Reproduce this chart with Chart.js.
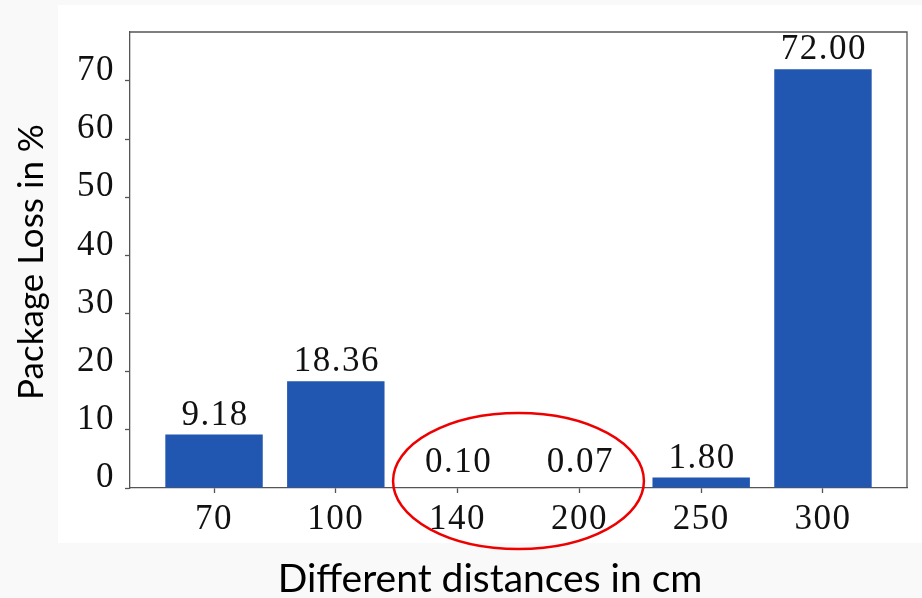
<!DOCTYPE html>
<html>
<head>
<meta charset="utf-8">
<script src="https://cdn.jsdelivr.net/npm/chart.js@4/dist/chart.umd.min.js"></script>
<style>
  html, body { margin: 0; padding: 0; background: #f9f9f9; }
  #wrap { width: 922px; height: 598px; position: relative; }
</style>
</head>
<body>
<div id="wrap"><canvas id="chart"></canvas></div>
<script>
// Packet loss measured at each transmitter–receiver distance
const categories = ['70', '100', '140', '200', '250', '300'];
const lossPercent = [9.18, 18.36, 0.10, 0.07, 1.80, 72.00];
const yTickValues = [0, 10, 20, 30, 40, 50, 60, 70];
const xTitle = 'Different distances in cm';
const yTitle = 'Package Loss in %';
const highlighted = [2, 3]; // indices circled in red

const AXIS = '#555555';
const BAR = '#2157b0';
const SERIF = '"Liberation Serif", "DejaVu Serif", serif';
const SANS = 'Lato, "Liberation Sans", sans-serif';
const SPACING = '1.5px';

const backdrop = {
  id: 'backdrop',
  beforeDraw(chart) {
    const ctx = chart.ctx;
    ctx.save();
    ctx.fillStyle = '#f9f9f9';
    ctx.fillRect(0, 0, chart.width, chart.height);
    ctx.fillStyle = '#ffffff';
    ctx.fillRect(58, 5, chart.width - 58, 538);
    ctx.restore();
    ctx.letterSpacing = SPACING;
  }
};

const frame = {
  id: 'frame',
  afterDatasetsDraw(chart) {
    const { ctx, chartArea: a } = chart;
    ctx.save();
    ctx.strokeStyle = AXIS;
    ctx.lineWidth = 1.3;
    ctx.beginPath();
    ctx.moveTo(a.left, a.top);
    ctx.lineTo(a.right, a.top);
    ctx.lineTo(a.right, a.bottom);
    ctx.stroke();
    ctx.restore();
  }
};

const valueLabels = {
  id: 'valueLabels',
  afterDatasetsDraw(chart) {
    const ctx = chart.ctx;
    const y = chart.scales.y;
    const meta = chart.getDatasetMeta(0);
    ctx.save();
    ctx.letterSpacing = SPACING;
    ctx.font = '35px ' + SERIF;
    ctx.fillStyle = '#111';
    ctx.textAlign = 'center';
    ctx.textBaseline = 'alphabetic';
    meta.data.forEach((bar, i) => {
      const base = y.getPixelForValue(0);
      const yy = Math.min(bar.y - 10, base - 16);
      ctx.fillText(lossPercent[i].toFixed(2), bar.x + 1, yy);
    });
    ctx.restore();
  }
};

const annotations = {
  id: 'annotations',
  afterDraw(chart) {
    const ctx = chart.ctx;
    const xs = chart.scales.x, ys = chart.scales.y;
    ctx.save();
    ctx.letterSpacing = '0px';
    // red ellipse around the near-zero bars
    const x0 = xs.getPixelForValue(highlighted[0]);
    const x1 = xs.getPixelForValue(highlighted[1]);
    const unit = xs.getPixelForValue(1) - xs.getPixelForValue(0);
    const cx = (x0 + x1) / 2;
    const cy = ys.getPixelForValue(0) - 7;
    ctx.strokeStyle = '#ee0000';
    ctx.lineWidth = 2.5;
    ctx.beginPath();
    ctx.ellipse(cx, cy, unit * 1.03, 68, 0, 0, Math.PI * 2);
    ctx.stroke();

    // axis titles
    ctx.fillStyle = '#000';
    ctx.textAlign = 'center';
    ctx.textBaseline = 'alphabetic';
    ctx.font = '39px ' + SANS;
    ctx.fillText(xTitle, 490, 592);
    ctx.font = '35px ' + SANS;
    ctx.translate(43, 262);
    ctx.rotate(-Math.PI / 2);
    ctx.fillText(yTitle, 0, 0);
    ctx.restore();
  }
};

new Chart(document.getElementById('chart'), {
  type: 'bar',
  data: {
    datasets: [{
      data: lossPercent.map((v, i) => ({ x: i, y: v })),
      backgroundColor: BAR,
      borderWidth: 0,
      barPercentage: 0.8,
      categoryPercentage: 1.0
    }]
  },
  options: {
    responsive: true,
    maintainAspectRatio: false,
    animation: false,
    layout: { padding: { top: 32, right: 15, left: 0, bottom: 0 } },
    plugins: { legend: { display: false }, tooltip: { enabled: false } },
    scales: {
      x: {
        type: 'linear',
        offset: false,
        min: -0.69,
        max: 5.69,
        afterBuildTicks(scale) {
          scale.ticks = categories.map((_, i) => ({ value: i }));
        },
        afterFit(scale) { scale.height = 110; },
        ticks: {
          callback: (v) => categories[v],
          font: { family: SERIF, size: 35 },
          color: '#111',
          padding: 6,
          maxRotation: 0,
          autoSkip: false
        },
        grid: { offset: false, drawOnChartArea: false, tickLength: 5, color: AXIS, tickWidth: 1.3 },
        border: { color: AXIS, width: 1.3 }
      },
      y: {
        min: 0,
        max: 78.4,
        afterBuildTicks(scale) {
          scale.ticks = yTickValues.map(v => ({ value: v }));
        },
        afterFit(scale) { scale.width = 130; },
        ticks: {
          font: { family: SERIF, size: 35 },
          color: '#111',
          padding: 10,
          labelOffset: -10
        },
        grid: { drawOnChartArea: false, tickLength: 5, color: AXIS, tickWidth: 1.3 },
        border: { color: AXIS, width: 1.3 }
      }
    }
  },
  plugins: [backdrop, frame, valueLabels, annotations]
});
</script>
</body>
</html>
